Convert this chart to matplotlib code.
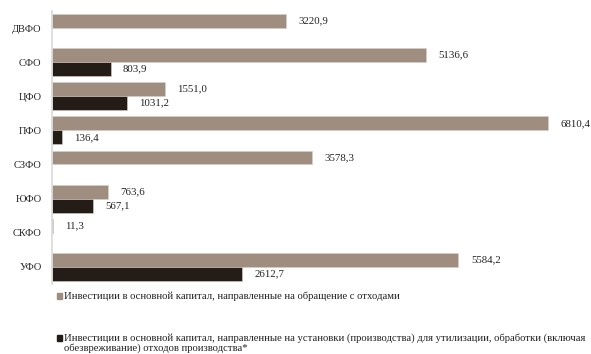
import numpy as np
import matplotlib.pyplot as plt
from matplotlib.patches import Rectangle

# Data
regions = ['ДВФО', 'СФО', 'ЦФО', 'ПФО', 'СЗФО', 'ЮФО', 'СКФО', 'УФО']
waste_total = [3220.9, 5136.6, 1551.0, 6810.4, 3578.3, 763.6, 11.3, 5584.2]
waste_plants = [None, 803.9, 1031.2, 136.4, None, 567.1, None, 2612.7]
legend_labels = [
    'Инвестиции в основной капитал, направленные на обращение с отходами',
    'Инвестиции в основной капитал, направленные на установки (производства) для утилизации, обработки (включая\n'
    'обезвреживание) отходов производства*',
]

grey = '#9f8e7f'
dark = '#241c17'
txt = '#222222'

plt.rcParams['font.family'] = ['Liberation Serif', 'DejaVu Serif']

fig = plt.figure(figsize=(5.91, 3.54), dpi=100)
ax = fig.add_axes([0.088, 0.198, 0.862, 0.771])

y = np.arange(len(regions))
h = 0.41

def label(v, yy):
    ax.annotate(f'{v:.1f}'.replace('.', ','), (v, yy), xytext=(9, 0),
                textcoords='offset points', va='center', ha='left', fontsize=7.8, color=txt)

for i in range(len(regions)):
    v1 = waste_total[i]
    ax.barh(y[i] - h / 2, v1, height=h, color=grey, edgecolor='#d8d0c8', linewidth=0.4)
    label(v1, y[i] - h / 2)
    v2 = waste_plants[i]
    if v2 is not None:
        ax.barh(y[i] + h / 2, v2, height=h, color=dark, edgecolor='#d8d0c8', linewidth=0.4)
        label(v2, y[i] + h / 2)

ax.set_xlim(0, 7000)
ax.set_ylim(len(regions) - 0.5, -0.5)
ax.set_yticks(y)
ax.set_yticklabels(regions, fontsize=7.5, color=txt)
ax.set_xticks([])
ax.tick_params(axis='y', length=0, pad=7.5)
for s in ['top', 'right', 'bottom']:
    ax.spines[s].set_visible(False)
ax.spines['left'].set_color('#d9d9d9')
ax.spines['left'].set_linewidth(1.2)

# legend drawn by hand, laid out like the source
for col, lab, ty in zip([grey, dark], legend_labels, [0.163, 0.045]):
    fig.patches.append(Rectangle((0.096, ty - 0.008), 0.009, 0.016, transform=fig.transFigure,
                                 color=col, figure=fig))
    if '\n' in lab:
        fig.text(0.108, ty + 0.013, lab, fontsize=7.7, va='top', ha='left', color=txt,
                 linespacing=1.05)
    else:
        fig.text(0.108, ty, lab, fontsize=7.7, va='center', ha='left', color=txt)

fig.savefig('out.png', dpi=100)
